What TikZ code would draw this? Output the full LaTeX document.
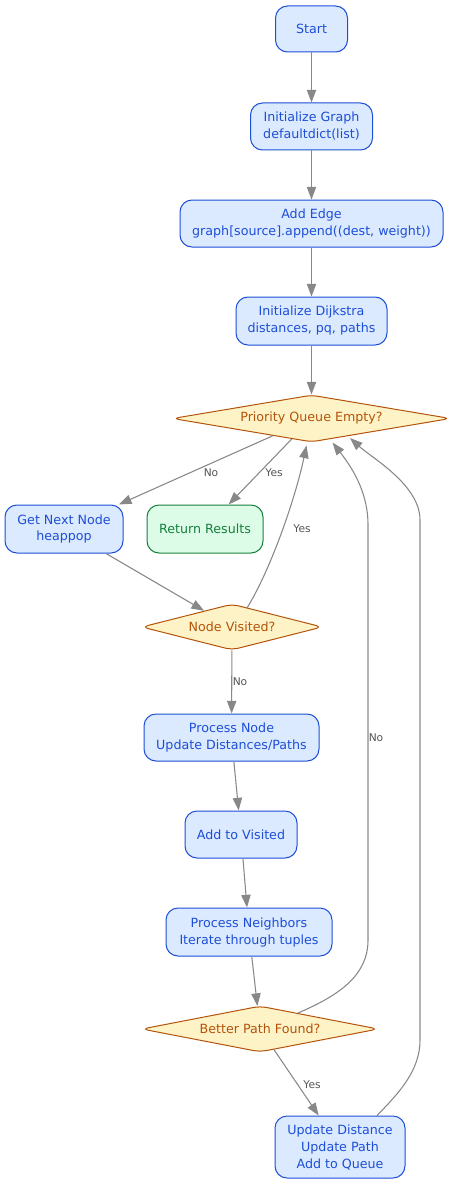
\documentclass[tikz,border=0pt]{standalone}
\usepackage{fontspec}
\setmainfont{DejaVu Sans}
\usetikzlibrary{shapes.geometric,arrows.meta,calc}
\definecolor{bluefill}{HTML}{DBEAFE}
\definecolor{bluedraw}{HTML}{1D4ED8}
\definecolor{greenfill}{HTML}{DCFCE7}
\definecolor{greendraw}{HTML}{15803D}
\definecolor{amberfill}{HTML}{FEF3C7}
\definecolor{amberdraw}{HTML}{B45309}
\definecolor{edgegray}{HTML}{888888}
\definecolor{labelgray}{HTML}{555555}
\newcommand\myNodeFont{\fontsize{9.5}{12.75}\selectfont}
\newcommand\myLabelFont{\fontsize{8}{10}\selectfont}
\begin{document}
\begin{tikzpicture}[x=0.75pt,y=-0.75pt,
  box/.style={draw=bluedraw, fill=bluefill, text=bluedraw, rounded corners=9pt,
    line width=0.75pt, align=center, inner sep=0pt, font=\myNodeFont},
  gbox/.style={box, draw=greendraw, fill=greenfill, text=greendraw},
  dbox/.style={shape=diamond, aspect=5, draw=amberdraw, fill=amberfill, text=amberdraw,
    rounded corners=5pt, line width=0.75pt, inner sep=0pt, font=\myNodeFont},
  edge/.style={draw=edgegray, line width=0.8pt, -{Triangle[length=9.5pt,width=7pt]}},
  lbl/.style={text=labelgray, font=\myLabelFont, inner sep=0pt}
]
\useasboundingbox (0,0) rectangle (462,1184);

\node[box, minimum width=54pt, minimum height=34.5pt] (start) at (311.5,29) {Start};
\node[box, minimum width=91.5pt, minimum height=35.25pt] (ig) at (311.5,126.5) {Initialize Graph\\defaultdict(list)};
\node[box, minimum width=197.25pt, minimum height=35.25pt] (ae) at (311.5,223.5) {Add Edge\\graph[source].append((dest, weight))};
\node[box, minimum width=113.25pt, minimum height=36pt] (id) at (311.5,321) {Initialize Dijkstra\\distances, pq, paths};
\node[dbox, minimum width=208.5pt, minimum height=35.25pt] (pq) at (311.5,418.5) {Priority Queue Empty?};
\node[box, minimum width=88.5pt, minimum height=36pt] (gn) at (64,529) {Get Next Node\\heappop};
\node[gbox, minimum width=87pt, minimum height=36pt] (rr) at (205,529) {Return Results};
\node[dbox, minimum width=135.5pt, minimum height=34.5pt] (nv) at (232,627) {Node Visited?};
\node[box, minimum width=131.25pt, minimum height=35.25pt] (pn) at (231.5,737.5) {Process Node\\Update Distances/Paths};
\node[box, minimum width=84pt, minimum height=35.25pt] (av) at (241,834.5) {Add to Visited};
\node[box, minimum width=124.5pt, minimum height=36pt] (pnb) at (249,932) {Process Neighbors\\Iterate through tuples};
\node[dbox, minimum width=177.5pt, minimum height=34.5pt] (bp) at (260,1029) {Better Path Found?};
\node[box, minimum width=97.5pt, minimum height=46.5pt] (ud) at (340,1147) {Update Distance\\Update Path\\Add to Queue};

\draw[edge] (start) -- (ig);
\draw[edge] (ig) -- (ae);
\draw[edge] (ae) -- (id);
\draw[edge] (id) -- (pq);
\draw[edge] (pq) -- (gn);
\draw[edge] (pq) -- (rr);
\draw[edge] (gn) -- (nv);
\draw[edge] ($(nv.center)+(15,-19)$) .. controls +(23,-37) and +(-11.5,54.5) .. ($(pq.center)+(-5,27)$);
\draw[edge] (nv) -- (pn);
\draw[edge] (pn) -- (av);
\draw[edge] (av) -- (pnb);
\draw[edge] (pnb) -- (bp);
\draw[edge] (bp) -- (ud);
\draw[edge] ($(bp.center)+(38,-16)$) .. controls (340,995) and (368,975) .. (368,940)
  -- (368,525) .. controls (368,490) and (350,465) .. ($(pq.center)+(21,24)$);
\draw[edge] ($(ud.north)+(37,0)$) .. controls (400,1092) and (420,1070) .. (420,1040)
  -- (420,520) .. controls (420,485) and (372,458) .. ($(pq.center)+(38.5,19.5)$);

\node[lbl] (l1) at (211,473) {No};
\node[lbl] (l2) at (274,473) {Yes};
\node[lbl] (l3) at (302,529) {Yes};
\node[lbl] (l4) at (240,682) {No};
\node[lbl] (l5) at (376,738) {No};
\node[lbl] (l6) at (312,1085) {Yes};
\end{tikzpicture}
\end{document}
